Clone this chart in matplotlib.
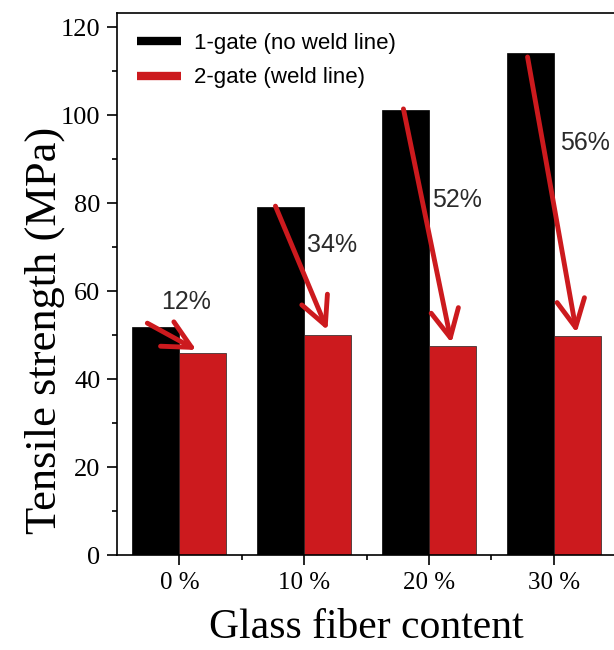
import matplotlib
matplotlib.use("Agg")
import matplotlib.pyplot as plt
from matplotlib.lines import Line2D
from matplotlib.ticker import MultipleLocator, FixedLocator
import numpy as np

# Data
categories = ["0 %", "10 %", "20 %", "30 %"]
one_gate = [51.8, 79.1, 101.1, 114.0]     # 1-gate (no weld line), MPa
two_gate = [45.9, 50.0, 47.5, 49.8]       # 2-gate (weld line), MPa
reduction_labels = ["12%", "34%", "52%", "56%"]

# Arrow start/end points (x in category units, y in MPa) and label anchors
arrow_start = [(-0.257, 52.7), (0.770, 79.3), (1.796, 101.4), (2.791, 113.2)]
arrow_end = [(0.136, 46.6), (1.187, 51.1), (2.181, 48.2), (3.184, 50.5)]
label_pos = [(0.056, 57.5), (1.227, 70.5), (2.229, 80.7), (3.248, 93.6)]

BLACK = "#000000"
RED = "#cc1a1e"
serif = "Liberation Serif"
sans = "Liberation Sans"

fig = plt.figure(figsize=(6.14, 6.5), dpi=100)
ax = fig.add_axes([117 / 614, 1 - 555 / 650, 499 / 614, 542 / 650])

x = np.arange(len(categories))
w = 0.377
ax.bar(x - w / 2, one_gate, width=w, color=BLACK, edgecolor=BLACK, linewidth=0.5, zorder=2)
ax.bar(x + w / 2, two_gate, width=w, color=RED, edgecolor="#222222", linewidth=0.5, zorder=2)

for (x0, y0), (x1, y1) in zip(arrow_start, arrow_end):
    ax.annotate("", xy=(x1, y1), xytext=(x0, y0),
                arrowprops=dict(arrowstyle="->,head_length=1.0,head_width=0.5",
                                color=RED, lw=3.5, mutation_scale=20,
                                shrinkA=0, shrinkB=0),
                zorder=4)

for (lx, ly), txt in zip(label_pos, reduction_labels):
    ax.text(lx, ly, txt, ha="center", va="center", fontsize=18,
            family=sans, color="#2a2a2a", zorder=5)

ax.set_xlim(-0.5, 3.5)
ax.set_ylim(0, 123.2)
ax.set_xticks(x)
ax.set_xticklabels(categories, family=serif, fontsize=18)
ax.xaxis.set_minor_locator(FixedLocator(x[:-1] + 0.5))
ax.yaxis.set_major_locator(MultipleLocator(20))
ax.yaxis.set_minor_locator(MultipleLocator(10))
for lab in ax.get_yticklabels():
    lab.set_family(serif)
    lab.set_fontsize(19)

ax.tick_params(axis="both", which="major", direction="out", length=7, width=1.2, pad=5)
ax.tick_params(axis="both", which="minor", direction="out", length=3.5, width=1.2)
ax.tick_params(axis="x", which="major", pad=5)
for side in ["left", "bottom", "top"]:
    ax.spines[side].set_linewidth(1.2)
ax.spines["right"].set_visible(False)

ax.set_ylabel("Tensile strength (MPa)", family=serif, fontsize=32, va="center")
ax.yaxis.set_label_coords(-0.144, 0.415)
ax.set_xlabel("Glass fiber content", family=serif, fontsize=30, va="center")
ax.xaxis.set_label_coords(0.5, -0.135)

handles = [Line2D([], [], color=BLACK, lw=6, solid_capstyle="butt"),
           Line2D([], [], color=RED, lw=6, solid_capstyle="butt")]
ax.legend(handles, ["1-gate (no weld line)", "2-gate (weld line)"],
          loc="upper left", frameon=False, prop={"family": sans, "size": 16},
          handlelength=2.0, handletextpad=0.55, labelspacing=0.6,
          borderaxespad=0.6, borderpad=0.3)

fig.savefig("out.png", dpi=100)
